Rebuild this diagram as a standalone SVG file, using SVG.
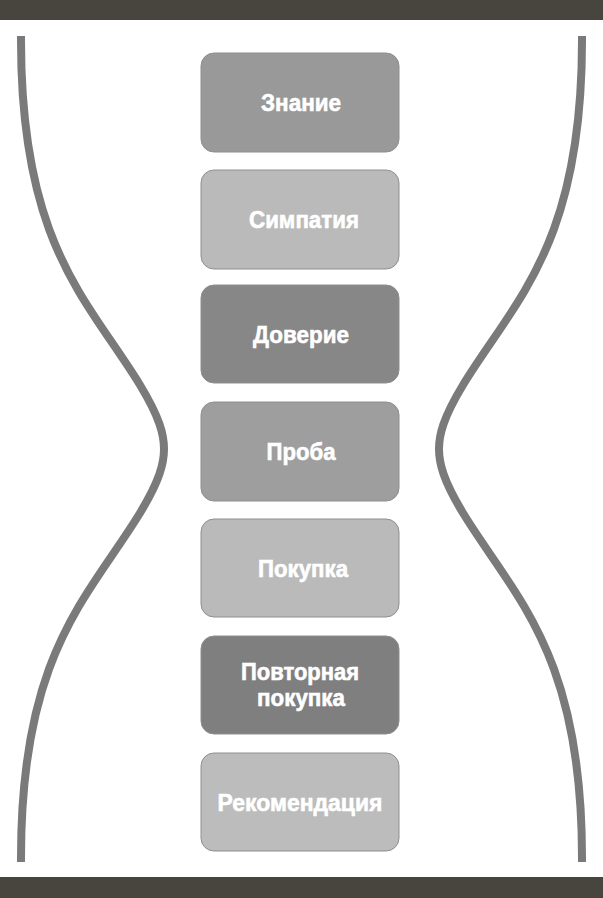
<svg xmlns="http://www.w3.org/2000/svg" width="603" height="898" viewBox="0 0 603 898">
<style>
.bar{fill:#48443e}
.glass{fill:none;stroke:#7a7a7a;stroke-width:8;stroke-linecap:butt}
.box{stroke:#8f8f8f;stroke-width:1}
.lbl{font-family:"Liberation Sans","DejaVu Sans",sans-serif;font-weight:bold;font-size:24.5px;fill:#ffffff;stroke:#ffffff;stroke-width:0.6;text-anchor:middle}
</style>
<rect width="603" height="898" fill="#ffffff"/>
<rect class="bar" x="0" y="0" width="603" height="20"/>
<rect class="bar" x="0" y="877" width="603" height="21"/>
<g id="hourglass">
<path id="left-side" class="glass" d="M21,36 C20,245 88,300 140,385 C160,418 164,435 164,449 C164,463 160,480 140,513 C88,598 20,653 21,862"/>
<path id="right-side" class="glass" transform="translate(603,0) scale(-1,1)" d="M21,36 C20,245 88,300 140,385 C160,418 164,435 164,449 C164,463 160,480 140,513 C88,598 20,653 21,862"/>
</g>
<g id="znanie"><rect class="box" x="201" y="53" width="198" height="99" rx="13" fill="#999999"/><text class="lbl" x="301" y="111" textLength="80" lengthAdjust="spacingAndGlyphs">Знание</text></g>
<g id="simpatiya"><rect class="box" x="201" y="170" width="198" height="99" rx="13" fill="#bababa"/><text class="lbl" x="304" y="228" textLength="110" lengthAdjust="spacingAndGlyphs">Симпатия</text></g>
<g id="doverie"><rect class="box" x="201" y="285" width="198" height="98" rx="13" fill="#878787"/><text class="lbl" x="301" y="343" textLength="96" lengthAdjust="spacingAndGlyphs">Доверие</text></g>
<g id="proba"><rect class="box" x="201" y="402" width="198" height="99" rx="13" fill="#9e9e9e"/><text class="lbl" x="301" y="460" textLength="69" lengthAdjust="spacingAndGlyphs">Проба</text></g>
<g id="pokupka"><rect class="box" x="201" y="519" width="198" height="98" rx="13" fill="#bababa"/><text class="lbl" x="303" y="577" textLength="90" lengthAdjust="spacingAndGlyphs">Покупка</text></g>
<g id="povtornaya"><rect class="box" x="201" y="636" width="198" height="98" rx="13" fill="#7f7f7f"/><text class="lbl" x="300" y="680" textLength="118" lengthAdjust="spacingAndGlyphs">Повторная</text><text class="lbl" x="301" y="706" textLength="88" lengthAdjust="spacingAndGlyphs">покупка</text></g>
<g id="rekomendaciya"><rect class="box" x="201" y="753" width="198" height="98" rx="13" fill="#bcbcbc"/><text class="lbl" x="300" y="811" textLength="165" lengthAdjust="spacingAndGlyphs">Рекомендация</text></g>
</svg>
